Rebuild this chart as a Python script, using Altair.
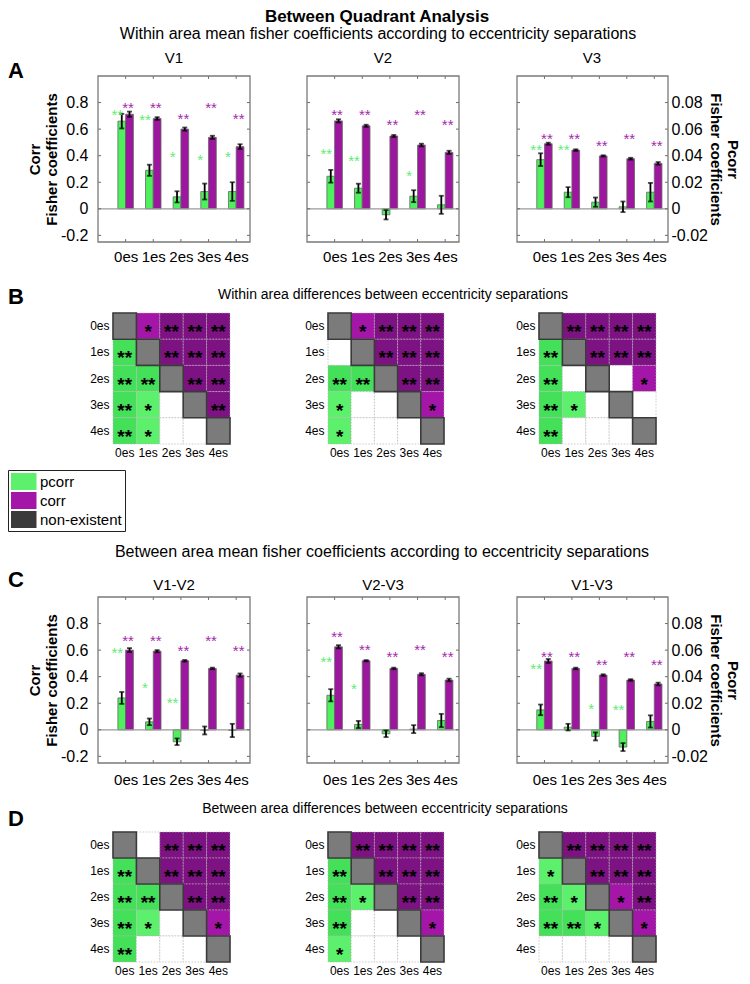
import altair as alt
import pandas as pd

W, H = 734, 968

SEPS = ["0es", "1es", "2es", "3es", "4es"]

# ---------------- Panel A: within-area mean Fisher coefficients ----------------
V1_CORR = [0.712, 0.680, 0.600, 0.538, 0.468]
V1_CORR_ERR = [0.020, 0.010, 0.012, 0.012, 0.018]
V1_CORR_STAR = ["**", "**", "**", "**", "**"]
V1_CORR_STAR_AT = [0.79, 0.79, 0.71, 0.79, 0.71]
V1_PCORR = [0.066, 0.029, 0.009, 0.013, 0.013]
V1_PCORR_ERR = [0.0055, 0.0042, 0.0042, 0.006, 0.007]
V1_PCORR_STAR = ["**", "**", "*", "*", "*"]
V1_PCORR_STAR_AT = [0.074, 0.070, 0.042, 0.040, 0.042]

V2_CORR = [0.662, 0.625, 0.548, 0.480, 0.425]
V2_CORR_ERR = [0.012, 0.008, 0.008, 0.010, 0.012]
V2_CORR_STAR = ["**", "**", "**", "**", "**"]
V2_CORR_STAR_AT = [0.74, 0.74, 0.66, 0.74, 0.66]
V2_PCORR = [0.0245, 0.0155, -0.0045, 0.0095, 0.003]
V2_PCORR_ERR = [0.0048, 0.0034, 0.0035, 0.0045, 0.0068]
V2_PCORR_STAR = ["**", "**", "", "*", ""]
V2_PCORR_STAR_AT = [0.0445, 0.039, None, 0.0275, None]

V3_CORR = [0.490, 0.442, 0.398, 0.377, 0.342]
V3_CORR_ERR = [0.008, 0.006, 0.005, 0.007, 0.010]
V3_CORR_STAR = ["**", "**", "**", "**", "**"]
V3_CORR_STAR_AT = [0.555, 0.555, 0.505, 0.555, 0.505]
V3_PCORR = [0.037, 0.0125, 0.005, 0.0015, 0.0125]
V3_PCORR_ERR = [0.0048, 0.0038, 0.0035, 0.004, 0.007]
V3_PCORR_STAR = ["**", "**", "", "", ""]
V3_PCORR_STAR_AT = [0.047, 0.047, None, None, None]

# ---------------- Panel C: between-area mean Fisher coefficients ----------------
V12_CORR = [0.600, 0.592, 0.520, 0.462, 0.412]
V12_CORR_ERR = [0.015, 0.008, 0.006, 0.006, 0.012]
V12_CORR_STAR = ["**", "**", "**", "**", "**"]
V12_CORR_STAR_AT = [0.70, 0.70, 0.625, 0.70, 0.625]
V12_PCORR = [0.024, 0.006, -0.009, -0.0005, -0.0005]
V12_PCORR_ERR = [0.0045, 0.0025, 0.0025, 0.003, 0.005]
V12_PCORR_STAR = ["**", "*", "**", "", ""]
V12_PCORR_STAR_AT = [0.061, 0.0345, 0.023, None, None]

V23_CORR = [0.625, 0.520, 0.462, 0.418, 0.375]
V23_CORR_ERR = [0.012, 0.005, 0.006, 0.008, 0.010]
V23_CORR_STAR = ["**", "**", "**", "**", "**"]
V23_CORR_STAR_AT = [0.73, 0.63, 0.575, 0.63, 0.575]
V23_PCORR = [0.026, 0.004, -0.003, 0.0005, 0.007]
V23_PCORR_ERR = [0.0046, 0.0027, 0.0025, 0.003, 0.005]
V23_PCORR_STAR = ["**", "*", "", "", ""]
V23_PCORR_STAR_AT = [0.054, 0.034, None, None, None]

V13_CORR = [0.518, 0.462, 0.412, 0.375, 0.345]
V13_CORR_ERR = [0.015, 0.006, 0.006, 0.006, 0.010]
V13_CORR_STAR = ["**", "**", "**", "**", "**"]
V13_CORR_STAR_AT = [0.575, 0.575, 0.52, 0.575, 0.52]
V13_PCORR = [0.015, 0.002, -0.005, -0.013, 0.0063]
V13_PCORR_ERR = [0.004, 0.0025, 0.003, 0.003, 0.0046]
V13_PCORR_STAR = ["**", "", "*", "**", ""]
V13_PCORR_STAR_AT = [0.049, None, 0.019, 0.018, None]

# ---------------- Panels B / D: difference matrices ----------------
# d = non-existent (diagonal), b = n.s., p1/p2 = pcorr */**, c1/c2 = corr */**
MB_V1 = ["d c1 c2 c2 c2", "p2 d c2 c2 c2", "p2 p2 d c2 c2", "p2 p1 b d c2", "p2 p1 b b d"]
MB_V2 = ["d c1 c2 c2 c2", "b d c2 c2 c2", "p2 p2 d c2 c2", "p1 b b d c1", "p1 b b b d"]
MB_V3 = ["d c2 c2 c2 c2", "p2 d c2 c2 c2", "p2 b d b c1", "p2 p1 b d b", "p2 b b b d"]
MD_V12 = ["d b c2 c2 c2", "p2 d c2 c2 c2", "p2 p2 d c2 c2", "p2 p1 b d c1", "p2 b b b d"]
MD_V23 = ["d c2 c2 c2 c2", "p2 d c2 c2 c2", "p2 p1 d c2 c2", "p2 b b d c1", "p1 b b b d"]
MD_V13 = ["d c2 c2 c2 c2", "p1 d c2 c2 c2", "p2 p1 d c1 c2", "p2 p2 p1 d c1", "b b b b d"]

LEGEND_LABELS = ["pcorr", "corr", "non-existent"]

# ---------------- build tables ----------------
BAR_SETS = [
    ("V1", V1_CORR, V1_CORR_ERR, V1_CORR_STAR, V1_CORR_STAR_AT, V1_PCORR, V1_PCORR_ERR, V1_PCORR_STAR, V1_PCORR_STAR_AT),
    ("V2", V2_CORR, V2_CORR_ERR, V2_CORR_STAR, V2_CORR_STAR_AT, V2_PCORR, V2_PCORR_ERR, V2_PCORR_STAR, V2_PCORR_STAR_AT),
    ("V3", V3_CORR, V3_CORR_ERR, V3_CORR_STAR, V3_CORR_STAR_AT, V3_PCORR, V3_PCORR_ERR, V3_PCORR_STAR, V3_PCORR_STAR_AT),
    ("V1-V2", V12_CORR, V12_CORR_ERR, V12_CORR_STAR, V12_CORR_STAR_AT, V12_PCORR, V12_PCORR_ERR, V12_PCORR_STAR, V12_PCORR_STAR_AT),
    ("V2-V3", V23_CORR, V23_CORR_ERR, V23_CORR_STAR, V23_CORR_STAR_AT, V23_PCORR, V23_PCORR_ERR, V23_PCORR_STAR, V23_PCORR_STAR_AT),
    ("V1-V3", V13_CORR, V13_CORR_ERR, V13_CORR_STAR, V13_CORR_STAR_AT, V13_PCORR, V13_PCORR_ERR, V13_PCORR_STAR, V13_PCORR_STAR_AT),
]
rows = []
for name, c, ce, cs, csa, p, pe, ps, psa in BAR_SETS:
    for i, sep in enumerate(SEPS):
        rows.append(dict(panel=name, idx=i, sep=sep, metric="pcorr", value=p[i], err=pe[i], star=ps[i], star_at=psa[i]))
        rows.append(dict(panel=name, idx=i, sep=sep, metric="corr", value=c[i], err=ce[i], star=cs[i], star_at=csa[i]))
bars = pd.DataFrame(rows)

CODE_CAT = {"d": "diag", "b": "blank", "p1": "pcorr", "p2": "pcorr2", "c1": "corr", "c2": "corr2"}
CODE_STAR = {"d": "", "b": "", "p1": "*", "p2": "**", "c1": "*", "c2": "**"}
MATS = [("B1", MB_V1), ("B2", MB_V2), ("B3", MB_V3), ("D1", MD_V12), ("D2", MD_V23), ("D3", MD_V13)]
crow = []
for name, mat in MATS:
    for r, line in enumerate(mat):
        for c, code in enumerate(line.split()):
            crow.append(dict(panel=name, row=SEPS[r], col=SEPS[c], cat=CODE_CAT[code], stars=CODE_STAR[code]))
cells = pd.DataFrame(crow)

ONE = alt.Data(values=[{"k": 0}])

# ---------------- styling ----------------
GREEN = "#4ff05e"
PURPLE = "#9c169e"
GREEN_STAR = "#62ec74"
PURPLE_STAR = "#a42aab"
CAT_DOMAIN = ["pcorr", "corr", "non-existent", "pcorr2", "corr2", "diag", "blank"]
CAT_RANGE = ["#5cf06c", "#a416a8", "#3a3a3a", "#45e05a", "#7d1282", "#7b7b7b", "#ffffff"]
FONT = "Liberation Sans"

XDOM = [0, 5.5]
YDOM = [-0.25, 1.0]
YTICKS = [-0.2, 0, 0.2, 0.4, 0.6, 0.8]
XTICKS = [1, 2, 3, 4, 5]
BW = 0.28
SEP_EXPR = "[" + ",".join("'%s'" % s for s in SEPS) + "][datum.value - 1]"
YTICK_DATA = alt.Data(values=[{"t": v} for v in YTICKS])
XTICK_DATA = alt.Data(values=[{"t": v} for v in XTICKS])
TX = 0.11   # inward tick length (x data units)
TY = 0.022  # inward tick length (y data units)


def bar_panel(name, xr, yr, side, label_pad):
    xs = alt.Scale(domain=XDOM, range=xr, nice=False, zero=False)
    ys = alt.Scale(domain=YDOM, range=yr, nice=False, zero=False)
    xaxis = alt.Axis(orient="bottom", offset=yr[0] - H, values=XTICKS, labelExpr=SEP_EXPR,
                     title=None, labelFontSize=15, labelPadding=label_pad, labelOverlap=False,
                     labelAngle=0, domain=False, ticks=False, grid=False, labelColor="black")
    if side == "left":
        yaxis = alt.Axis(orient="left", offset=-xr[0], values=YTICKS,
                         labelExpr="datum.value == 0 ? '0' : (datum.value < 0 ? '-' : '') + format(abs(datum.value), '.1f')",
                         title=["Corr", "Fisher coefficients"], titleFontSize=15, titleFontWeight="bold",
                         titlePadding=1, titleLineHeight=17, labelFontSize=16, labelPadding=10,
                         domain=False, ticks=False, grid=False, labelOverlap=False,
                         labelColor="black", titleColor="black")
    elif side == "right":
        yaxis = alt.Axis(orient="right", offset=xr[1] - W, values=YTICKS,
                         labelExpr="datum.value == 0 ? '0' : (datum.value < 0 ? '-' : '') + format(abs(datum.value) / 10, '.2f')",
                         title=["Pcorr", "Fisher coefficients"], titleFontSize=15, titleFontWeight="bold",
                         titlePadding=0, titleLineHeight=17, labelFontSize=16, labelPadding=3,
                         domain=False, ticks=False, grid=False, labelOverlap=False,
                         labelColor="black", titleColor="black")
    else:
        yaxis = None

    d = (alt.Chart(bars)
         .transform_filter(alt.datum.panel == name)
         .transform_calculate(
             k="datum.metric == 'pcorr' ? 10 : 1",
             xa="datum.idx + 1 + (datum.metric == 'pcorr' ? -%s : 0)" % BW)
         .transform_calculate(
             v="datum.value * datum.k",
             lo="(datum.value - datum.err) * datum.k",
             hi="(datum.value + datum.err) * datum.k",
             sy="datum.star_at * datum.k",
             xb="datum.xa + %s" % BW,
             xm="datum.xa + %s" % (BW / 2),
             xs="datum.xa + %s + (datum.metric == 'pcorr' ? -0.16 : -0.05)" % (BW / 2)))

    fill = alt.condition(alt.datum.metric == "pcorr", alt.value(GREEN), alt.value(PURPLE))
    sfill = alt.condition(alt.datum.metric == "pcorr", alt.value(GREEN_STAR), alt.value(PURPLE_STAR))

    def X(f):
        return alt.X(f, scale=xs, axis=xaxis)

    def Y(f):
        return alt.Y(f, scale=ys, axis=yaxis)

    barm = d.mark_bar(stroke="#666666", strokeWidth=0.8).encode(
        x=X("xa:Q"), x2="xb:Q", y=Y("v:Q"), y2=alt.Y2(datum=0), fill=fill)
    zero = alt.Chart(ONE).mark_rule(color="#9a9a9a", strokeWidth=1.3).encode(
        x=alt.X(datum=XDOM[0], scale=xs, axis=xaxis), x2=alt.X2(datum=XDOM[1]),
        y=alt.Y(datum=0, scale=ys, axis=yaxis))
    err = d.mark_rule(color="black", strokeWidth=1.8).encode(
        x=X("xm:Q"), y=Y("lo:Q"), y2="hi:Q")
    cap_lo = d.mark_tick(color="black", thickness=1.8, size=5, orient="horizontal").encode(
        x=X("xm:Q"), y=Y("lo:Q"))
    cap_hi = d.mark_tick(color="black", thickness=1.8, size=5, orient="horizontal").encode(
        x=X("xm:Q"), y=Y("hi:Q"))
    stars = d.transform_filter(alt.datum.star != "").mark_text(
        fontSize=15, baseline="alphabetic", dy=9, align="center").encode(
        x=X("xs:Q"), y=Y("sy:Q"), text="star:N", fill=sfill)
    # inward frame ticks
    tick_style = dict(color="#6a6a6a", strokeWidth=1)
    yt_left = alt.Chart(YTICK_DATA).mark_rule(**tick_style).encode(
        x=alt.X(datum=XDOM[0], scale=xs, axis=xaxis), x2=alt.X2(datum=XDOM[0] + TX),
        y=alt.Y("t:Q", scale=ys, axis=yaxis))
    yt_right = alt.Chart(YTICK_DATA).mark_rule(**tick_style).encode(
        x=alt.X(datum=XDOM[1] - TX, scale=xs, axis=xaxis), x2=alt.X2(datum=XDOM[1]),
        y=alt.Y("t:Q", scale=ys, axis=yaxis))
    xt_bot = alt.Chart(XTICK_DATA).mark_rule(**tick_style).encode(
        x=alt.X("t:Q", scale=xs, axis=xaxis),
        y=alt.Y(datum=YDOM[0], scale=ys, axis=yaxis), y2=alt.Y2(datum=YDOM[0] + TY))
    xt_top = alt.Chart(XTICK_DATA).mark_rule(**tick_style).encode(
        x=alt.X("t:Q", scale=xs, axis=xaxis),
        y=alt.Y(datum=YDOM[1] - TY, scale=ys, axis=yaxis), y2=alt.Y2(datum=YDOM[1]))
    frame = alt.Chart(ONE).mark_rect(fill="white", fillOpacity=0, stroke="#7a7a7a", strokeWidth=1.3).encode(
        x=alt.X(datum=XDOM[0], scale=xs, axis=xaxis), x2=alt.X2(datum=XDOM[1]),
        y=alt.Y(datum=YDOM[0], scale=ys, axis=yaxis), y2=alt.Y2(datum=YDOM[1]))
    return alt.layer(barm, zero, err, cap_lo, cap_hi, stars, yt_left, yt_right, xt_bot, xt_top, frame)


LEGEND = alt.Legend(values=LEGEND_LABELS, orient="none", legendX=0, legendY=462, title=None,
                    symbolType="M-1,-1H2V1H-1Z", symbolSize=289, symbolStrokeWidth=0,
                    symbolOpacity=1, labelFontSize=15, labelOffset=12, labelColor="black",
                    strokeColor="#222222", padding=3, rowPadding=2, labelLimit=200)
CSCALE = alt.Scale(domain=CAT_DOMAIN, range=CAT_RANGE)


def matrix_panel(name, xr, yr):
    xs = alt.Scale(domain=SEPS, range=xr, paddingInner=0, paddingOuter=0)
    ys = alt.Scale(domain=SEPS, range=yr, paddingInner=0, paddingOuter=0)
    xaxis = alt.Axis(orient="bottom", offset=yr[1] - H, labelFontSize=12, labelPadding=3,
                     labelAngle=0, title=None, domain=False, ticks=False, grid=False,
                     labelOverlap=False, labelColor="black")
    yaxis = alt.Axis(orient="left", offset=-xr[0], labelFontSize=12, labelPadding=4,
                     title=None, domain=False, ticks=False, grid=False,
                     labelOverlap=False, labelColor="black")
    d = alt.Chart(cells).transform_filter(alt.datum.panel == name)
    X = alt.X("col:N", scale=xs, axis=xaxis, sort=SEPS)
    Y = alt.Y("row:N", scale=ys, axis=yaxis, sort=SEPS)
    rect = d.mark_rect(stroke="#b5b5b5", strokeWidth=0.7, strokeDash=[1.5, 1.5]).encode(
        x=X, y=Y, color=alt.Color("cat:N", scale=CSCALE, legend=LEGEND))
    diag = d.transform_filter(alt.datum.cat == "diag").mark_rect(
        fill="white", fillOpacity=0, stroke="#3a3a3a", strokeWidth=1.6).encode(x=X, y=Y)
    txt = d.transform_filter(alt.datum.stars != "").mark_text(
        fontSize=19, fontWeight="bold", color="black", baseline="alphabetic", dy=12,
        align="center").encode(x=X, y=Y, text="stars:N")
    return alt.layer(rect, diag, txt)


def label(text, x, y, size, weight="normal", align="center", baseline="middle"):
    return alt.Chart(ONE).mark_text(text=text, fontSize=size, fontWeight=weight, align=align,
                                    baseline=baseline, color="black", font=FONT).encode(
        x=alt.value(x), y=alt.value(y))


PX = [[90, 242], [299, 451], [509, 660]]
MX = [[105, 222], [320, 436], [531, 648]]
YA = [234, 68]
YC = [755, 589]
YB = [305, 436]
YD = [824, 954]

layers = [
    bar_panel("V1", PX[0], YA, "left", 7),
    bar_panel("V2", PX[1], YA, "none", 7),
    bar_panel("V3", PX[2], YA, "right", 7),
    bar_panel("V1-V2", PX[0], YC, "left", 9),
    bar_panel("V2-V3", PX[1], YC, "none", 9),
    bar_panel("V1-V3", PX[2], YC, "right", 9),
    matrix_panel("B1", MX[0], YB),
    matrix_panel("B2", MX[1], YB),
    matrix_panel("B3", MX[2], YB),
    matrix_panel("D1", MX[0], YD),
    matrix_panel("D2", MX[1], YD),
    matrix_panel("D3", MX[2], YD),
    label("Between Quadrant Analysis", 369, 9, 17, "bold"),
    label("Within area mean fisher coefficients according to eccentricity separations", 370, 26, 16),
    label("V1", 166, 50, 15), label("V2", 375, 50, 15), label("V3", 584, 50, 15),
    label("A", 0, 63, 22, "bold", "left"),
    label("B", 0, 289, 22, "bold", "left"),
    label("Within area differences between eccentricity separations", 385, 287, 14),
    label("Between area mean fisher coefficients according to eccentricity separations", 374, 544, 16),
    label("C", 0, 572, 22, "bold", "left"),
    label("V1-V2", 166, 577, 15), label("V2-V3", 375, 577, 15), label("V1-V3", 584, 577, 15),
    label("D", 0, 811, 22, "bold", "left"),
    label("Between area differences between eccentricity separations", 377, 801, 14),
]

chart = (alt.layer(*layers)
         .resolve_scale(x="independent", y="independent")
         .properties(width=W, height=H, padding=0, autosize=alt.AutoSizeParams(type="none"))
         .configure(font=FONT)
         .configure_view(stroke="transparent"))

chart.save("out.html", embed_options={"renderer": "svg", "actions": False})
